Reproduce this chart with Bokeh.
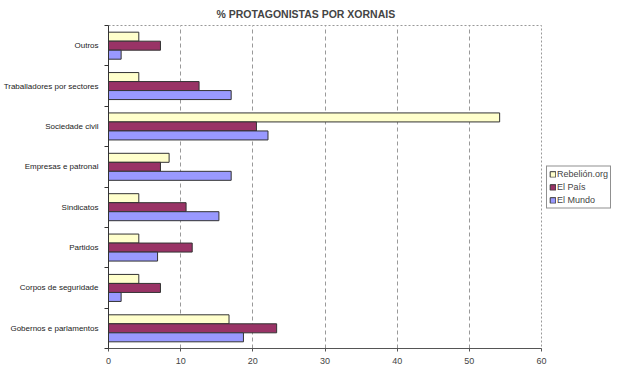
from bokeh.plotting import figure
from bokeh.models import Range1d, FixedTicker, Legend, LegendItem, ColumnDataSource
from bokeh.transform import dodge
from bokeh.embed import file_html
from bokeh.resources import INLINE

categories = ["Gobernos e parlamentos", "Corpos de seguridade", "Partidos", "Sindicatos",
              "Empresas e patronal", "Sociedade civil", "Traballadores por sectores", "Outros"]
rebelion = [16.7, 4.2, 4.2, 4.2, 8.4, 54.2, 4.2, 4.2]
elpais = [23.3, 7.2, 11.6, 10.75, 7.2, 20.5, 12.55, 7.2]
elmundo = [18.7, 1.75, 6.8, 15.3, 17.0, 22.1, 17.0, 1.75]
series_names = ["Rebelión.org", "El País", "El Mundo"]
colors = ["#FFFFCC", "#993366", "#9999FF"]
x_ticks = [0, 10, 20, 30, 40, 50, 60]
title_text = "% PROTAGONISTAS POR XORNAIS"

pos = [i + 0.5 for i in range(len(categories))]
src = ColumnDataSource(dict(y=pos, reb=rebelion, pais=elpais, mundo=elmundo))

p = figure(frame_width=433, frame_height=323, output_backend="svg", toolbar_location=None,
           x_range=Range1d(0, 60), y_range=Range1d(0, len(categories)),
           min_border_left=108, min_border_right=76, min_border_top=25, min_border_bottom=29)

bw = 0.223
r1 = p.hbar(y=dodge("y", bw, range=p.y_range), right="reb", height=bw, source=src,
            fill_color=colors[0], line_color="#333333", line_width=1)
r2 = p.hbar(y=dodge("y", 0, range=p.y_range), right="pais", height=bw, source=src,
            fill_color=colors[1], line_color="#333333", line_width=1)
r3 = p.hbar(y=dodge("y", -bw, range=p.y_range), right="mundo", height=bw, source=src,
            fill_color=colors[2], line_color="#333333", line_width=1)

p.title.text = title_text
p.title.text_font = "Liberation Sans"
p.title.text_font_size = "10.5px"
p.title.text_font_style = "bold"
p.title.align = "left"
p.title.offset = 108
p.title.standoff = 11

# y axis: category labels at band centres, small tick marks at band boundaries
p.yaxis.ticker = FixedTicker(ticks=pos, minor_ticks=list(range(len(categories) + 1)))
p.yaxis.major_label_overrides = {pv: c for pv, c in zip(pos, categories)}
p.yaxis.major_tick_line_color = None
p.yaxis.major_tick_out = 0
p.yaxis.major_tick_in = 0
p.yaxis.minor_tick_out = 4
p.yaxis.minor_tick_in = 0
p.yaxis.minor_tick_line_color = "#333333"
p.yaxis.axis_line_color = "#333333"
p.yaxis.major_label_text_font = "Liberation Sans"
p.yaxis.major_label_text_font_size = "8px"
p.yaxis.major_label_text_color = "#222222"
p.yaxis.major_label_standoff = 6

# x axis
p.xaxis.ticker = FixedTicker(ticks=x_ticks)
p.xaxis.minor_tick_line_color = None
p.xaxis.major_tick_out = 3
p.xaxis.major_tick_in = 0
p.xaxis.major_tick_line_color = "#555555"
p.xaxis.axis_line_color = "#555555"
p.xaxis.major_label_text_font = "Liberation Sans"
p.xaxis.major_label_text_font_size = "9px"
p.xaxis.major_label_text_color = "#444444"
p.xaxis.major_label_standoff = 6

p.ygrid.grid_line_color = None
p.xgrid.grid_line_color = "#999999"
p.xgrid.grid_line_dash = "4 3"
p.outline_line_color = "#999999"
p.outline_line_dash = "2 2"

legend = Legend(items=[LegendItem(label=series_names[0], renderers=[r1]),
                       LegendItem(label=series_names[1], renderers=[r2]),
                       LegendItem(label=series_names[2], renderers=[r3])],
                location="left", orientation="vertical",
                label_text_font="Liberation Sans", label_text_font_size="9px",
                label_height=11, glyph_height=7, glyph_width=7, label_standoff=1,
                spacing=2, padding=2, margin=5,
                border_line_color="#222222", border_line_width=1,
                background_fill_color="white")
p.add_layout(legend, "right")

open("out.html", "w").write(file_html(p, INLINE))
